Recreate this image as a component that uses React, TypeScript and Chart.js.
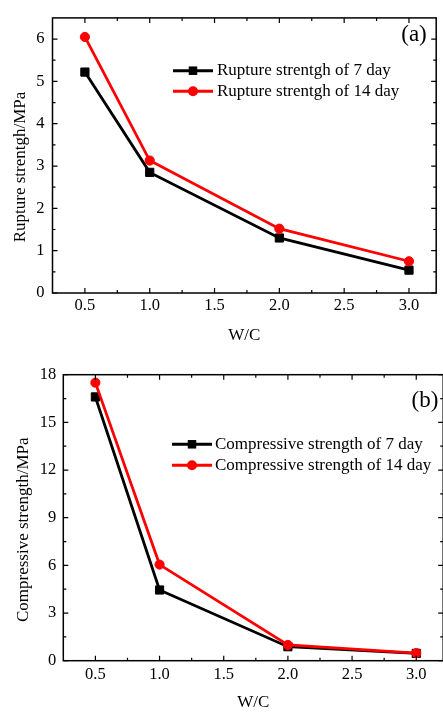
import React, { useEffect, useRef } from 'react';
import { Chart, registerables } from 'chart.js';

Chart.register(...registerables);

// ---------- data ----------
const WC = [0.5, 1.0, 2.0, 3.0];
const RUPTURE_7 = [5.22, 2.85, 1.3, 0.54];
const RUPTURE_14 = [6.05, 3.13, 1.52, 0.75];
const COMP_7 = [16.6, 4.45, 0.88, 0.46];
const COMP_14 = [17.5, 6.05, 0.99, 0.48];
const X_TICKS = [0.5, 1.0, 1.5, 2.0, 2.5, 3.0];
const Y_TICKS_A = [0, 1, 2, 3, 4, 5, 6];
const Y_TICKS_B = [0, 3, 6, 9, 12, 15, 18];
const LABELS_A = ['Rupture strentgh of 7 day', 'Rupture strentgh of 14 day'];
const LABELS_B = ['Compressive strength of 7 day', 'Compressive strength of 14 day'];
const X_TITLE = 'W/C';
const Y_TITLE_A = 'Rupture strentgh/MPa';
const Y_TITLE_B = 'Compressive strength/MPa';
const TAG_A = '(a)';
const TAG_B = '(b)';

const FONT = "'Liberation Serif', 'Times New Roman', serif";

function minorValues(major: number[], min: number, max: number) {
  const out: number[] = [];
  if (major.length < 2) return out;
  const step = major[1] - major[0];
  const eps = step * 0.01;
  for (let v = major[0] - step / 2; v <= max + eps; v += step) {
    if (v > min + eps && v < max - eps) out.push(v);
  }
  return out;
}

const frameTicks = {
  id: 'frameTicks',
  afterDraw(chart: any) {
    const { ctx, chartArea } = chart;
    const { left, right, top, bottom } = chartArea;
    const xs = chart.scales.x;
    const ys = chart.scales.y;
    ctx.save();
    ctx.strokeStyle = '#000';
    ctx.lineWidth = 1.5;
    ctx.strokeRect(left, top, right - left, bottom - top);
    const MAJ = 5;
    const MIN = 3;
    const xMaj = xs.ticks.map((t: any) => t.value);
    const yMaj = ys.ticks.map((t: any) => t.value);
    const xMin = minorValues(xMaj, xs.min, xs.max);
    const yMin = minorValues(yMaj, ys.min, ys.max);
    ctx.lineWidth = 1.2;
    ctx.beginPath();
    const xt = (vals: number[], len: number) => {
      vals.forEach((v) => {
        const px = xs.getPixelForValue(v);
        ctx.moveTo(px, bottom);
        ctx.lineTo(px, bottom - len);
        ctx.moveTo(px, top);
        ctx.lineTo(px, top + len);
      });
    };
    const yt = (vals: number[], len: number) => {
      vals.forEach((v) => {
        const py = ys.getPixelForValue(v);
        ctx.moveTo(left, py);
        ctx.lineTo(left + len, py);
        ctx.moveTo(right, py);
        ctx.lineTo(right - len, py);
      });
    };
    xt(xMaj, MAJ);
    xt(xMin, MIN);
    yt(yMaj, MAJ);
    yt(yMin, MIN);
    ctx.stroke();
    ctx.restore();
  },
};

const customLegend = {
  id: 'customLegend',
  afterDraw(chart: any, _args: any, opts: any) {
    const { ctx, chartArea } = chart;
    ctx.save();
    chart.data.datasets.forEach((ds: any, i: number) => {
      const y = opts.y + i * opts.gap;
      ctx.strokeStyle = ds.borderColor;
      ctx.lineWidth = 3;
      ctx.beginPath();
      ctx.moveTo(opts.x, y);
      ctx.lineTo(opts.x + opts.len, y);
      ctx.stroke();
      const cx = opts.x + opts.len / 2;
      ctx.fillStyle = ds.backgroundColor;
      if (ds.pointStyle === 'rect') {
        const s = 8.5;
        ctx.fillRect(cx - s / 2, y - s / 2, s, s);
      } else {
        ctx.beginPath();
        ctx.arc(cx, y, 5, 0, Math.PI * 2);
        ctx.fill();
      }
      ctx.fillStyle = '#000';
      ctx.font = `17px ${FONT}`;
      ctx.textAlign = 'left';
      ctx.textBaseline = 'middle';
      ctx.fillText(ds.label, opts.textX, y);
    });
    ctx.font = `23px ${FONT}`;
    ctx.textAlign = 'center';
    ctx.textBaseline = 'middle';
    ctx.fillStyle = '#000';
    ctx.fillText(opts.tag, opts.tagX, opts.tagY);
    // y axis title
    const cy = (chartArea.top + chartArea.bottom) / 2 + opts.yTitleShift;
    ctx.translate(opts.yTitleX, cy);
    ctx.rotate(-Math.PI / 2);
    ctx.font = `17px ${FONT}`;
    ctx.fillText(opts.yTitle, 0, 0);
    ctx.restore();
  },
};

function makeChart(canvas: HTMLCanvasElement, spec: any) {
  return new Chart(canvas, {
    type: 'scatter',
    data: {
      datasets: [
        {
          label: spec.labels[0],
          data: WC.map((x, i) => ({ x, y: spec.s7[i] })),
          showLine: true,
          borderColor: '#000000',
          backgroundColor: '#000000',
          borderWidth: 2.8,
          pointStyle: 'rect',
          pointRadius: 5.8,
          pointHoverRadius: 5.8,
          pointBorderWidth: 1,
          order: 2,
        },
        {
          label: spec.labels[1],
          data: WC.map((x, i) => ({ x, y: spec.s14[i] })),
          showLine: true,
          borderColor: '#ff0000',
          backgroundColor: '#ff0000',
          borderWidth: 2.8,
          pointStyle: 'circle',
          pointRadius: 4.6,
          pointHoverRadius: 4.6,
          pointBorderWidth: 1,
          order: 1,
        },
      ],
    } as any,
    options: {
      animation: false,
      responsive: false,
      devicePixelRatio: 1,
      events: [],
      layout: { padding: { top: spec.padTop, right: spec.padRight, left: 0, bottom: 0 } },
      plugins: {
        legend: { display: false },
        tooltip: { enabled: false },
        customLegend: { ...spec.legend, yTitle: spec.yTitle },
      } as any,
      scales: {
        x: {
          type: 'linear',
          min: 0.25,
          max: 3.21,
          afterBuildTicks: (s: any) => {
            s.ticks = X_TICKS.map((value) => ({ value }));
          },
          afterFit: (s: any) => {
            s.height = spec.xAxisH;
          },
          grid: { display: false, drawTicks: false },
          border: { display: false },
          ticks: {
            padding: spec.xTickPad,
            color: '#000',
            font: { family: FONT, size: 16.5 },
            maxRotation: 0,
            autoSkip: false,
            callback: (v: any) => Number(v).toFixed(1),
          },
          title: {
            display: true,
            text: X_TITLE,
            color: '#000',
            font: { family: FONT, size: 17 },
            padding: { top: 0, bottom: spec.xTitlePad },
          },
        },
        y: {
          type: 'linear',
          min: 0,
          max: spec.yMax,
          afterBuildTicks: (s: any) => {
            s.ticks = spec.yTicks.map((value: number) => ({ value }));
          },
          afterFit: (s: any) => {
            s.width = spec.yAxisW;
          },
          grid: { display: false, drawTicks: false },
          border: { display: false },
          ticks: {
            padding: spec.yTickPad,
            color: '#000',
            font: { family: FONT, size: 16.5 },
            autoSkip: false,
            callback: (v: any) => String(v),
          },
          title: { display: false },
        },
      },
    } as any,
    plugins: [frameTicks, customLegend] as any,
  });
}

const SPEC_A = {
  labels: LABELS_A,
  s7: RUPTURE_7,
  s14: RUPTURE_14,
  yMax: 6.5,
  yTicks: Y_TICKS_A,
  yTitle: Y_TITLE_A,
  padTop: 7,
  padRight: 5.5,
  yAxisW: 52.5,
  xAxisH: 57,
  xTickPad: 3,
  xTitlePad: 4.3,
  yTickPad: 8,
  legend: {
    x: 173, y: 70.7, gap: 20.6, len: 40, textX: 217,
    tag: TAG_A, tagX: 414, tagY: 35, yTitleX: 21, yTitleShift: 11.5,
  },
};

const SPEC_B = {
  labels: LABELS_B,
  s7: COMP_7,
  s14: COMP_14,
  yMax: 18,
  yTicks: Y_TICKS_B,
  yTitle: Y_TITLE_B,
  padTop: 34.7,
  padRight: 4.7,
  yAxisW: 63.3,
  xAxisH: 52.3,
  xTickPad: 4.4,
  xTitlePad: 0,
  yTickPad: 7,
  legend: {
    x: 172, y: 104.3, gap: 21, len: 40, textX: 215,
    tag: TAG_B, tagX: 425, tagY: 61, yTitleX: 23.5, yTitleShift: 12,
  },
};

export default function App() {
  const r1 = useRef<HTMLCanvasElement>(null);
  const r2 = useRef<HTMLCanvasElement>(null);
  useEffect(() => {
    const c1 = makeChart(r1.current as HTMLCanvasElement, SPEC_A);
    const c2 = makeChart(r2.current as HTMLCanvasElement, SPEC_B);
    return () => {
      c1.destroy();
      c2.destroy();
    };
  }, []);
  return (
    <div
      style={{
        position: 'absolute',
        left: 0,
        top: 0,
        width: 443,
        height: 713,
        overflow: 'hidden',
        background: '#fff',
      }}
    >
      <canvas ref={r1} width={443} height={350} style={{ position: 'absolute', left: 0, top: 0 }} />
      <canvas ref={r2} width={450} height={373} style={{ position: 'absolute', left: 0, top: 340 }} />
    </div>
  );
}
